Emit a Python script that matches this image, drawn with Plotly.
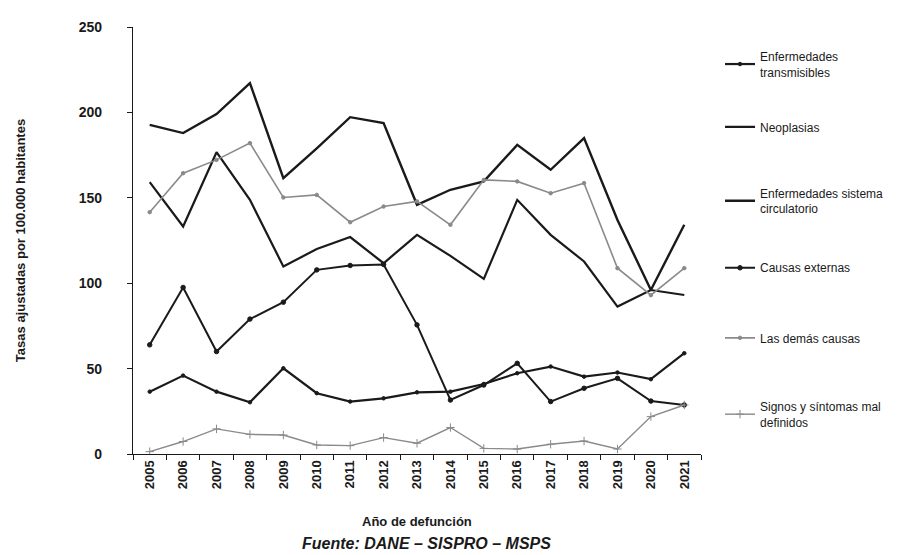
import plotly.graph_objects as go

years = [str(y) for y in range(2005, 2022)]

transmisibles = [36.5, 45.9, 36.5, 30.3, 50.2, 35.6, 30.7, 32.6, 36.1, 36.5, 41.0, 47.3, 51.2, 45.3, 47.7, 43.8, 59.0]
neoplasias = [159.2, 133.2, 176.7, 148.8, 109.8, 120.0, 127.0, 111.7, 128.3, 116.0, 102.5, 148.8, 128.3, 112.7, 86.3, 96.0, 93.1]
circulatorio = [192.7, 187.9, 199.0, 217.2, 161.5, 179.0, 197.2, 193.7, 145.9, 154.7, 159.6, 181.0, 166.4, 185.0, 137.0, 96.0, 134.2]
externas = [63.9, 97.5, 60.0, 79.0, 88.9, 107.8, 110.4, 111.0, 75.6, 31.6, 40.4, 53.1, 30.7, 38.5, 44.3, 31.0, 28.7]
demas = [141.6, 164.4, 172.2, 182.0, 150.2, 151.7, 135.7, 144.9, 147.9, 134.2, 160.5, 159.6, 152.7, 158.6, 108.8, 93.0, 108.8]
signos = [1.4, 7.3, 14.7, 11.5, 11.1, 5.3, 4.9, 9.6, 6.3, 15.5, 3.3, 2.9, 5.7, 7.6, 2.9, 21.9, 28.7]

names = ["Enfermedades<br>transmisibles", "Neoplasias", "Enfermedades sistema<br>circulatorio",
         "Causas externas", "Las demás causas", "Signos y síntomas mal<br>definidos"]

FONT = "Liberation Sans, Arial"
BLACK = "#1a1a1a"
GRAY = "#8a8a8a"

fig = go.Figure()

specs = [
    (transmisibles, names[0], BLACK, 2.2, "circle", 3.5),
    (neoplasias, names[1], BLACK, 2.2, None, 0),
    (circulatorio, names[2], BLACK, 2.4, None, 0),
    (externas, names[3], BLACK, 2.0, "circle", 4.5),
    (demas, names[4], GRAY, 1.6, "circle", 3.5),
    (signos, names[5], GRAY, 1.4, "cross-thin-open", 6),
]

legend_y = [0.965, 0.800, 0.645, 0.470, 0.306, 0.145]

for i, (vals, nm, col, w, sym, ms) in enumerate(specs):
    mode = "lines+markers" if sym else "lines"
    kw = dict(x=years, y=vals, name=nm, mode=mode,
              line=dict(color=col, width=w),
              legend="legend" if i == 0 else f"legend{i+1}")
    if sym:
        kw["marker"] = dict(symbol=sym, size=ms, color=col, line=dict(color=col, width=1))
    fig.add_trace(go.Scatter(**kw))

layout_legends = {}
for i, ly in enumerate(legend_y):
    key = "legend" if i == 0 else f"legend{i+1}"
    layout_legends[key] = dict(x=1.0335, y=ly, xanchor="left", yanchor="top",
                               bgcolor="rgba(0,0,0,0)", borderwidth=0,
                               font=dict(family=FONT, size=12, color=BLACK),
                               itemwidth=30, tracegroupgap=0)

fig.update_layout(
    width=914, height=555,
    margin=dict(l=125, r=221, t=19, b=109),
    paper_bgcolor="white", plot_bgcolor="white",
    font=dict(family=FONT, color=BLACK, size=12),
    showlegend=True,
    **layout_legends,
    xaxis=dict(
        type="category", range=[-0.5, 16.5], tickangle=-90,
        tickson="boundaries", ticks="outside", ticklen=5, tickcolor=BLACK,
        showline=True, linecolor=BLACK, linewidth=1.2, showgrid=False, zeroline=False,
        tickfont=dict(family=FONT, size=13, color=BLACK, weight="bold"),
    ),
    yaxis=dict(
        range=[0, 250], tickvals=[0, 50, 100, 150, 200, 250],
        ticks="outside", ticklen=5, tickcolor=BLACK, ticklabelstandoff=22,
        showline=True, linecolor=BLACK, linewidth=1.2, showgrid=False, zeroline=False,
        tickfont=dict(family=FONT, size=14, color=BLACK, weight="bold"),
        title=dict(text="Tasas ajustadas por 100.000 habitantes", standoff=50,
                   font=dict(family=FONT, size=13, color=BLACK, weight="bold")),
    ),
    annotations=[
        dict(text="<b>Año de defunción</b>", x=0.5, y=-0.158, xref="paper", yref="paper",
             showarrow=False, xanchor="center", yanchor="middle",
             font=dict(family=FONT, size=13, color=BLACK)),
        dict(text="<b><i>Fuente: DANE – SISPRO – MSPS</i></b>", x=0.516, y=-0.21,
             xref="paper", yref="paper", showarrow=False, xanchor="center", yanchor="middle",
             font=dict(family="Liberation Sans, Arial", size=16, color=BLACK)),
    ],
)

fig.write_html("out.html")
